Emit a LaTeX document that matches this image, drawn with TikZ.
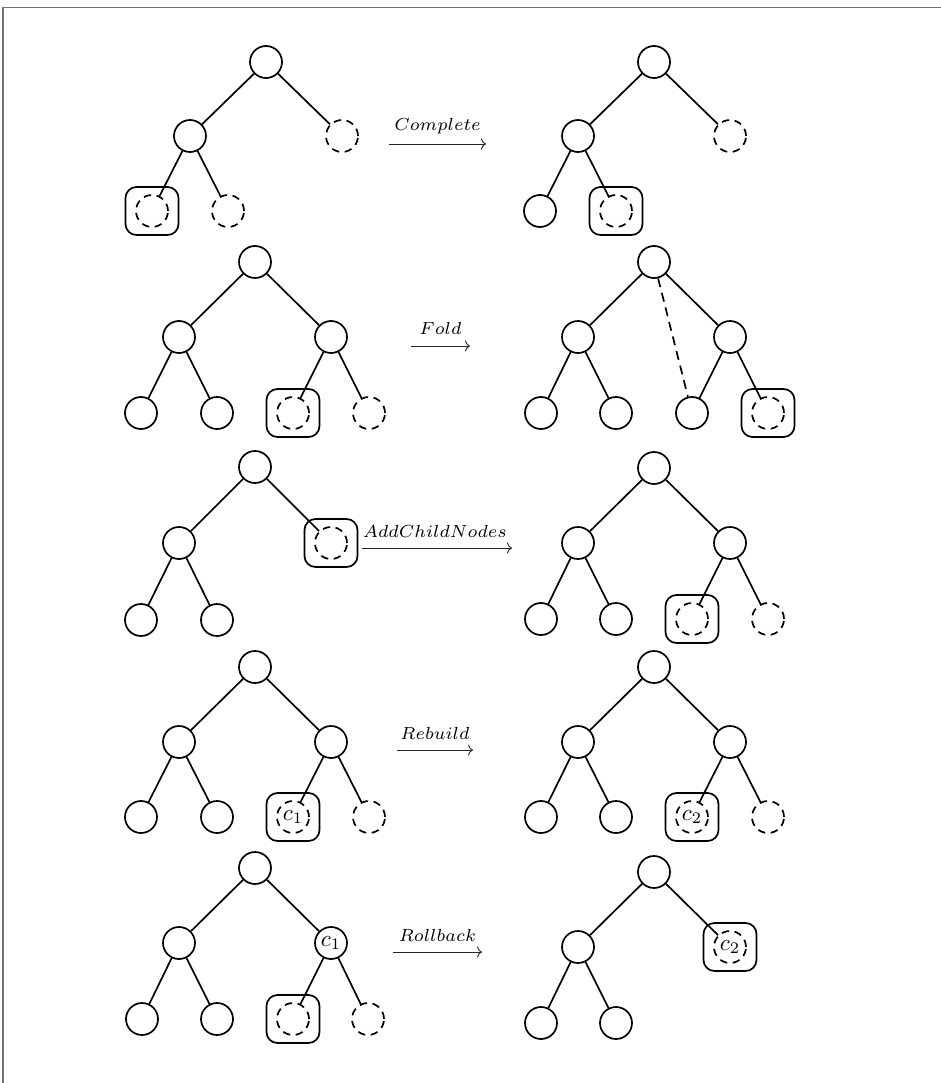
\documentclass[tikz,border=0pt]{standalone}
\usepackage{graphicx}
\usetikzlibrary{arrows.meta}
\newcommand\clab[1]{\scalebox{2.3}{$#1$}}
\tikzset{
 every node/.style={inner sep=0pt},
 tn/.style={circle, draw, line width=1.7pt, minimum size=32pt},
 dn/.style={circle, draw, line width=1.7pt, minimum size=32pt, dash pattern=on 7.5pt off 5.5pt},
 bx/.style={draw, rounded corners=11pt, line width=1.7pt, minimum width=53pt, minimum height=48pt},
 ed/.style={line width=1.7pt},
 fe/.style={line width=1.7pt, dash pattern=on 9pt off 6pt},
 op/.style={line width=0.9pt, draw=black!85, -{To[length=5pt,width=11pt]}},
 lb/.style={anchor=base, scale=2.5},
 fr/.style={draw=black!55, line width=1.2pt}
}
\begin{document}
\begin{tikzpicture}[x=1pt,y=-1pt]
\useasboundingbox (0,0) rectangle (941,1083);
% frame
\coordinate (f1) at (3,1083); \coordinate (f2) at (3,7.5); \coordinate (f3) at (941,7.5);
\draw[fr] (f1) -- (f2) -- (f3);

% ===== Row 1 =====
\node[tn] (a0) at (266,62) {};
\node[tn] (a1) at (190,136) {};
\node[dn] (a2) at (342,136) {};
\node[bx] (a3b) at (152,211) {};
\node[dn] (a3) at (152,211) {};
\node[dn] (a4) at (228,211) {};
\draw[ed] (a0) -- (a1); \draw[ed] (a0) -- (a2);
\draw[ed] (a1) -- (a3); \draw[ed] (a1) -- (a4);

\coordinate (o1s) at (389,144); \coordinate (o1e) at (486,144);
\draw[op] (o1s) -- (o1e);
\node[lb] (o1l) at (437.5,131) {$\scriptstyle Complete$};

\node[tn] (b0) at (654,62) {};
\node[tn] (b1) at (578,136) {};
\node[dn] (b2) at (730,136) {};
\node[tn] (b3) at (540,211) {};
\node[bx] (b4b) at (616,211) {};
\node[dn] (b4) at (616,211) {};
\draw[ed] (b0) -- (b1); \draw[ed] (b0) -- (b2);
\draw[ed] (b1) -- (b3); \draw[ed] (b1) -- (b4);

% ===== Row 2 =====
\node[tn] (c0) at (255,262) {};
\node[tn] (c1) at (179,337) {};
\node[tn] (c2) at (331,337) {};
\node[tn] (c3) at (141,413) {};
\node[tn] (c4) at (217,413) {};
\node[bx] (c5b) at (293,413) {};
\node[dn] (c5) at (293,413) {};
\node[dn] (c6) at (369,413) {};
\draw[ed] (c0) -- (c1); \draw[ed] (c0) -- (c2);
\draw[ed] (c1) -- (c3); \draw[ed] (c1) -- (c4);
\draw[ed] (c2) -- (c5); \draw[ed] (c2) -- (c6);

\coordinate (o2s) at (411,346); \coordinate (o2e) at (470,346);
\draw[op] (o2s) -- (o2e);
\node[lb] (o2l) at (440.5,334) {$\scriptstyle Fold$};

\node[tn] (d0) at (654,262) {};
\node[tn] (d1) at (578,337) {};
\node[tn] (d2) at (730,337) {};
\node[tn] (d3) at (541,413) {};
\node[tn] (d4) at (616,413) {};
\node[tn] (d5) at (692,413) {};
\node[bx] (d6b) at (768,413) {};
\node[dn] (d6) at (768,413) {};
\draw[ed] (d0) -- (d1); \draw[ed] (d0) -- (d2);
\draw[ed] (d1) -- (d3); \draw[ed] (d1) -- (d4);
\draw[ed] (d2) -- (d5); \draw[ed] (d2) -- (d6);
\draw[fe] (d0) -- (d5);

% ===== Row 3 =====
\node[tn] (e0) at (255,467) {};
\node[tn] (e1) at (179,543) {};
\node[bx] (e2b) at (331,543) {};
\node[dn] (e2) at (331,543) {};
\node[tn] (e3) at (141,620) {};
\node[tn] (e4) at (217,620) {};
\draw[ed] (e0) -- (e1); \draw[ed] (e0) -- (e2);
\draw[ed] (e1) -- (e3); \draw[ed] (e1) -- (e4);

\coordinate (o3s) at (362,548); \coordinate (o3e) at (512,548);
\draw[op] (o3s) -- (o3e);
\node[lb] (o3l) at (435,537) {$\scriptstyle AddChildNodes$};

\node[tn] (g0) at (654,468) {};
\node[tn] (g1) at (578,543) {};
\node[tn] (g2) at (730,543) {};
\node[tn] (g3) at (541,619) {};
\node[tn] (g4) at (616,619) {};
\node[bx] (g5b) at (692,619) {};
\node[dn] (g5) at (692,619) {};
\node[dn] (g6) at (768,619) {};
\draw[ed] (g0) -- (g1); \draw[ed] (g0) -- (g2);
\draw[ed] (g1) -- (g3); \draw[ed] (g1) -- (g4);
\draw[ed] (g2) -- (g5); \draw[ed] (g2) -- (g6);

% ===== Row 4 =====
\node[tn] (h0) at (255,667) {};
\node[tn] (h1) at (179,742) {};
\node[tn] (h2) at (331,742) {};
\node[tn] (h3) at (141,817) {};
\node[tn] (h4) at (217,817) {};
\node[bx] (h5b) at (293,817) {};
\node[dn] (h5) at (293,817) {\clab{c_1}};
\node[dn] (h6) at (369,817) {};
\draw[ed] (h0) -- (h1); \draw[ed] (h0) -- (h2);
\draw[ed] (h1) -- (h3); \draw[ed] (h1) -- (h4);
\draw[ed] (h2) -- (h5); \draw[ed] (h2) -- (h6);

\coordinate (o4s) at (397,750); \coordinate (o4e) at (473,750);
\draw[op] (o4s) -- (o4e);
\node[lb] (o4l) at (435,739) {$\scriptstyle Rebuild$};

\node[tn] (k0) at (654,667) {};
\node[tn] (k1) at (578,742) {};
\node[tn] (k2) at (730,742) {};
\node[tn] (k3) at (541,817) {};
\node[tn] (k4) at (616,817) {};
\node[bx] (k5b) at (692,817) {};
\node[dn] (k5) at (692,817) {\clab{c_2}};
\node[dn] (k6) at (768,817) {};
\draw[ed] (k0) -- (k1); \draw[ed] (k0) -- (k2);
\draw[ed] (k1) -- (k3); \draw[ed] (k1) -- (k4);
\draw[ed] (k2) -- (k5); \draw[ed] (k2) -- (k6);

% ===== Row 5 =====
\node[tn] (m0) at (255,868) {};
\node[tn] (m1) at (179,943) {};
\node[tn] (m2) at (331,943) {\clab{c_1}};
\node[tn] (m3) at (142,1019) {};
\node[tn] (m4) at (217,1019) {};
\node[bx] (m5b) at (293,1019) {};
\node[dn] (m5) at (293,1019) {};
\node[dn] (m6) at (368,1019) {};
\draw[ed] (m0) -- (m1); \draw[ed] (m0) -- (m2);
\draw[ed] (m1) -- (m3); \draw[ed] (m1) -- (m4);
\draw[ed] (m2) -- (m5); \draw[ed] (m2) -- (m6);

\coordinate (o5s) at (393,952); \coordinate (o5e) at (482,952);
\draw[op] (o5s) -- (o5e);
\node[lb] (o5l) at (437.5,941) {$\scriptstyle Rollback$};

\node[tn] (n0) at (654,872) {};
\node[tn] (n1) at (578,947) {};
\node[bx] (n2b) at (730,947) {};
\node[dn] (n2) at (730,947) {\clab{c_2}};
\node[tn] (n3) at (541,1023) {};
\node[tn] (n4) at (616,1023) {};
\draw[ed] (n0) -- (n1); \draw[ed] (n0) -- (n2);
\draw[ed] (n1) -- (n3); \draw[ed] (n1) -- (n4);
\end{tikzpicture}
\end{document}
